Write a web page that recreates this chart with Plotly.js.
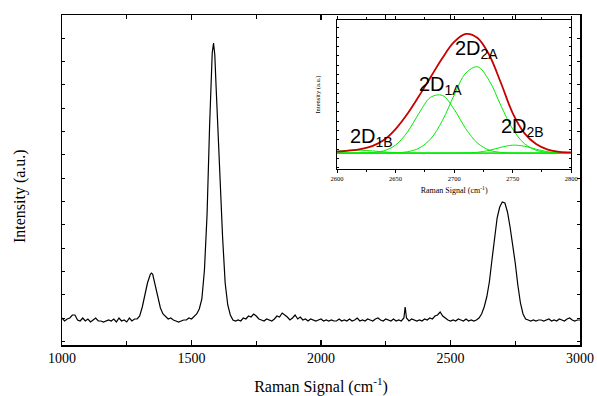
<!DOCTYPE html>
<html>
<head>
<meta charset="utf-8">
<script src="https://cdn.plot.ly/plotly-3.0.1.min.js"></script>
<style>html,body{margin:0;padding:0;background:#fff;}#chart{width:597px;height:396px;}</style>
</head>
<body>
<div id="chart"></div>
<script>
// Main Raman spectrum
const ramanShift = [1000,1010,1020,1030,1040,1050,1060,1070,1080,1090,1100,1110,1120,1130,1140,1150,1160,1170,1180,1190,1200,1210,1220,1230,1240,1250,1260,1270,1280,1290,1300,1310,1320,1330,1340,1345,1350,1360,1370,1380,1390,1400,1410,1420,1430,1440,1450,1460,1470,1480,1490,1500,1510,1520,1530,1540,1550,1560,1570,1575,1580,1585,1590,1595,1600,1610,1620,1630,1640,1650,1660,1670,1680,1690,1700,1710,1720,1730,1740,1750,1760,1770,1780,1790,1800,1810,1820,1830,1840,1850,1860,1870,1880,1890,1900,1910,1920,1930,1940,1950,1960,1970,1980,1990,2000,2010,2020,2030,2040,2050,2060,2070,2080,2090,2100,2110,2120,2130,2140,2150,2160,2170,2180,2190,2200,2210,2220,2230,2240,2250,2260,2270,2280,2290,2300,2310,2320,2325,2330,2340,2350,2360,2370,2380,2390,2400,2410,2420,2430,2440,2450,2460,2470,2480,2490,2500,2510,2520,2530,2540,2550,2560,2570,2580,2590,2600,2610,2620,2630,2640,2650,2660,2670,2680,2690,2700,2710,2720,2730,2740,2750,2760,2770,2780,2790,2800,2810,2820,2830,2840,2850,2860,2870,2880,2890,2900,2910,2920,2930,2940,2950,2960,2970,2980,2990,3000];
const intensity = [27,24,26,27,30,30,25,24,27,24,26,23,25,27,24,24,23,24,25,24,26,23,27,24,25,23,27,24,26,26,29,38,50,62,70,72,71,60,48,37,31,28,26,27,25,24,23,24,25,25,27,26,29,31,36,46,75,130,220,262,292,302,290,258,225,160,108,62,40,30,25,24,25,24,27,26,29,28,31,29,26,25,24,26,25,24,26,29,28,32,30,28,25,27,30,26,28,25,26,24,26,25,24,25,26,24,25,24,25,24,24,26,24,25,24,26,24,25,27,24,25,24,26,25,24,26,27,25,24,26,25,24,26,24,25,24,27,38,27,24,26,25,24,25,24,26,25,27,26,29,30,33,29,27,25,24,25,24,26,25,24,26,24,25,24,25,27,31,38,48,63,85,108,127,138,143,142,133,118,102,82,60,42,31,26,25,24,25,24,25,25,24,25,26,24,25,24,26,25,24,26,27,25,24,25,25];

// Inset: 2D band fit
const insetShift = [2600,2610,2620,2630,2640,2650,2660,2670,2680,2690,2700,2710,2720,2730,2740,2750,2760,2770,2780,2790,2800];
const envelope2D = [1.5,2.5,4,7,13,24,39,57,76,95,111,119,115,98,70,40,20,9,3.5,1.2,0.7];
const peak2D1B = [1.8,2.8,2.9,2.2,1.2,0.5,0.1,0,0,0,0,0,0,0,0,0,0,0,0,0,0];
const peak2D1A = [0,0,0.1,0.5,2.3,8.0,20.8,39.8,55.8,57.6,43.7,24.3,10.0,3.0,0.7,0.1,0,0,0,0,0];
const peak2D2A = [0,0,0,0,0,0.3,1.3,4.9,14.2,32.5,57.8,79.9,86.2,72.3,47.3,24.1,9.5,2.9,0.7,0.1,0];
const peak2D2B = [0,0,0,0,0,0,0,0,0,0,0.1,0.2,0.8,2.7,5.8,7.9,6.9,3.9,1.4,0.3,0.1];
const insetBaseline = insetShift.map(() => 0);

const serif = 'Liberation Serif, Times New Roman, serif';
const green = 'rgb(0,235,0)';
const red = 'rgb(200,0,0)';

const traces = [
  {x: ramanShift, y: intensity, type: 'scatter', mode: 'lines', line: {color: '#000', width: 1.2}, xaxis: 'x', yaxis: 'y', showlegend: false},
  {x: insetShift, y: insetBaseline, type: 'scatter', mode: 'lines', line: {color: green, width: 1.2}, xaxis: 'x2', yaxis: 'y2', showlegend: false},
  {x: insetShift, y: peak2D1B, type: 'scatter', mode: 'lines', line: {color: green, width: 1, shape: 'spline'}, xaxis: 'x2', yaxis: 'y2', showlegend: false},
  {x: insetShift, y: peak2D1A, type: 'scatter', mode: 'lines', line: {color: green, width: 1, shape: 'spline'}, xaxis: 'x2', yaxis: 'y2', showlegend: false},
  {x: insetShift, y: peak2D2A, type: 'scatter', mode: 'lines', line: {color: green, width: 1, shape: 'spline'}, xaxis: 'x2', yaxis: 'y2', showlegend: false},
  {x: insetShift, y: peak2D2B, type: 'scatter', mode: 'lines', line: {color: green, width: 1, shape: 'spline'}, xaxis: 'x2', yaxis: 'y2', showlegend: false},
  {x: insetShift, y: envelope2D, type: 'scatter', mode: 'lines', line: {color: red, width: 1.8, shape: 'spline'}, xaxis: 'x2', yaxis: 'y2', showlegend: false}
];

const labelFont = {family: 'Liberation Sans, Arial, sans-serif', size: 20, color: '#000'};

const layout = {
  width: 597, height: 396,
  margin: {l: 62, r: 17, t: 15, b: 51},
  paper_bgcolor: '#fff', plot_bgcolor: '#fff',
  showlegend: false,
  xaxis: {
    domain: [0, 1], range: [1000, 3000], tick0: 1000, dtick: 500,
    ticks: 'inside', ticklen: 5, tickwidth: 1.2, tickcolor: '#000',
    minor: {dtick: 250, ticks: 'inside', ticklen: 4, tickcolor: '#000'},
    showline: true, linecolor: '#000', linewidth: 1.5, mirror: 'allticks',
    showgrid: false, zeroline: false,
    tickfont: {family: serif, size: 14, color: '#000'},
    title: {text: 'Raman Signal (cm<sup>-1</sup>)', font: {family: serif, size: 16, color: '#000'}, standoff: 16}
  },
  yaxis: {
    domain: [0, 1], range: [0, 330], tick0: 3.4, dtick: 23.33,
    ticks: 'inside', ticklen: 3, tickcolor: '#000',
    showticklabels: false,
    showline: true, linecolor: '#000', linewidth: 1.5, mirror: 'allticks',
    showgrid: false, zeroline: false
  },
  xaxis2: {
    domain: [0.531, 0.983], anchor: 'y2', range: [2600, 2800], tick0: 2600, dtick: 50,
    ticks: 'outside', ticklen: 3, tickcolor: '#000', tickwidth: 1,
    minor: {dtick: 25, ticks: 'outside', ticklen: 2, tickcolor: '#000'},
    showline: true, linecolor: '#000', linewidth: 1, mirror: 'allticks',
    showgrid: false, zeroline: false,
    tickfont: {family: serif, size: 6.5, color: '#000'},
    title: {text: 'Raman Signal (cm<sup>-1</sup>)', font: {family: serif, size: 8, color: '#000'}, standoff: 6}
  },
  yaxis2: {
    domain: [0.533, 0.985], anchor: 'x2', range: [-16, 133], tick0: -14.7, dtick: 9.33,
    ticks: 'inside', ticklen: 2, tickcolor: '#000',
    showticklabels: false,
    showline: true, linecolor: '#000', linewidth: 1, mirror: 'allticks',
    showgrid: false, zeroline: false,
    title: {text: 'Intensity (a.u.)', font: {family: serif, size: 6.5, color: '#000'}, standoff: 14}
  },
  annotations: [
    {xref: 'paper', yref: 'paper', x: -0.081, y: 0.4515, text: 'Intensity (a.u.)', textangle: -90, showarrow: false,
     xanchor: 'center', yanchor: 'middle', font: {family: serif, size: 16, color: '#000'}},
    {xref: 'x2', yref: 'y2', x: 2719, y: 103, text: '2D<sub>2A</sub>', showarrow: false, font: labelFont},
    {xref: 'x2', yref: 'y2', x: 2688, y: 68, text: '2D<sub>1A</sub>', showarrow: false, font: labelFont},
    {xref: 'x2', yref: 'y2', x: 2629, y: 16, text: '2D<sub>1B</sub>', showarrow: false, font: labelFont},
    {xref: 'x2', yref: 'y2', x: 2758, y: 26, text: '2D<sub>2B</sub>', showarrow: false, font: labelFont}
  ]
};

Plotly.newPlot('chart', traces, layout, {displayModeBar: false, staticPlot: true});
</script>
</body>
</html>
